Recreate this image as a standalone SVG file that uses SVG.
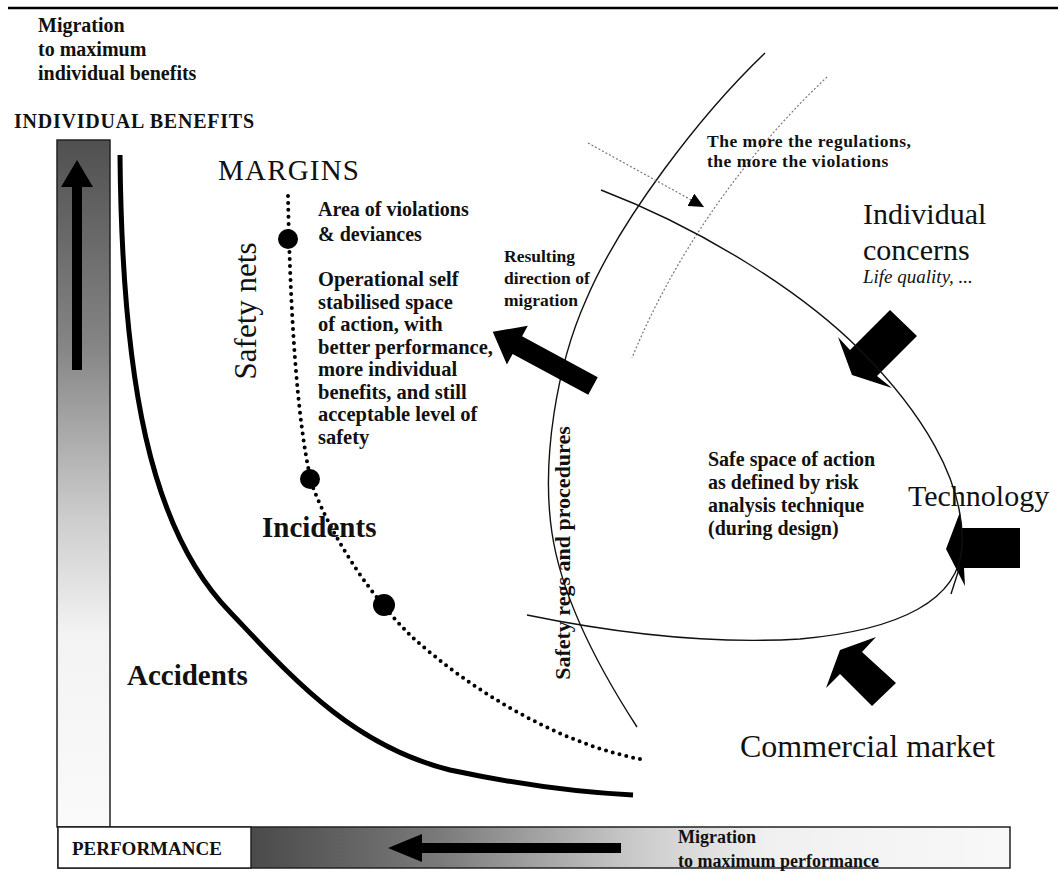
<svg xmlns="http://www.w3.org/2000/svg" width="1058" height="875" viewBox="0 0 1058 875">
<style>
.b{font-family:"Liberation Serif","Times New Roman",serif;font-weight:bold;fill:#111}
.r{font-family:"Liberation Serif","Times New Roman",serif;fill:#111}
.thin{fill:none;stroke:#111;stroke-width:1.4}
.dotg{fill:none;stroke:#777;stroke-width:1.2;stroke-dasharray:2 2}
.blk{fill:#000}
</style>
<defs>
<linearGradient id="gv" x1="0" y1="0" x2="0" y2="1">
<stop offset="0" stop-color="#505050"/>
<stop offset="0.3" stop-color="#858585"/>
<stop offset="0.55" stop-color="#cdcdcd"/>
<stop offset="0.72" stop-color="#f3f3f3"/>
<stop offset="1" stop-color="#fafafa"/>
</linearGradient>
<linearGradient id="gh" gradientUnits="userSpaceOnUse" x1="250" y1="0" x2="1010" y2="0">
<stop offset="0" stop-color="#4a4a4a"/>
<stop offset="0.25" stop-color="#7a7a7a"/>
<stop offset="0.5" stop-color="#c8c8c8"/>
<stop offset="0.68" stop-color="#f0f0f0"/>
<stop offset="1" stop-color="#f8f8f8"/>
</linearGradient>
<marker id="tri" markerUnits="userSpaceOnUse" markerWidth="16" markerHeight="14" refX="15" refY="7" orient="auto">
<path d="M0,0 L15,7 L0,14 z" fill="#000"/>
</marker>
</defs>
<rect width="1058" height="875" fill="#fff"/>
<line x1="8" y1="8" x2="1058" y2="8" stroke="#000" stroke-width="2.5"/>

<g id="axis-benefits">
<rect x="57" y="140" width="53" height="687" fill="url(#gv)" stroke="#222" stroke-width="1.5"/>
<polygon class="blk" points="77,160 93,187 82,187 82,370 72,370 72,187 61,187"/>
<text class="b" x="38" y="32" font-size="20">Migration</text>
<text class="b" x="38" y="56" font-size="20">to maximum</text>
<text class="b" x="38" y="80" font-size="20">individual benefits</text>
<text class="b" x="14" y="128" font-size="20" textLength="240" lengthAdjust="spacing">INDIVIDUAL BENEFITS</text>
</g>

<g id="axis-performance">
<rect x="58" y="827" width="952" height="41" fill="url(#gh)" stroke="#222" stroke-width="1.5"/>
<rect x="58" y="827" width="193" height="41" fill="#fff" stroke="#222" stroke-width="1.5"/>
<text class="b" x="72" y="855" font-size="19">PERFORMANCE</text>
<polygon class="blk" points="388,848 422,834 422,843 621,843 621,853 422,853 422,862"/>
<text class="b" x="678" y="843" font-size="18">Migration</text>
<text class="b" x="678" y="867" font-size="18">to maximum performance</text>
</g>

<g id="connectors">
<path id="accidents-boundary" d="M120,155 C122,380 150,530 230,612 C290,675 350,745 450,770 C530,787 590,793 633,795" fill="none" stroke="#000" stroke-width="5"/>
<path id="safety-nets" d="M288,196 C290,300 296,420 312,485 C335,545 375,600 410,635 C470,690 560,745 645,760" fill="none" stroke="#000" stroke-width="4" stroke-linecap="round" stroke-dasharray="0 7"/>
<path id="regs-arc" class="thin" d="M765,53 C700,115 620,220 586,300 C557,365 541,460 552,533 C562,600 600,670 637,727"/>
<path id="violations-arc" class="dotg" d="M827,77 C760,140 680,240 632,358"/>
<line id="regs-arrow" class="dotg" x1="588" y1="143" x2="704" y2="207" marker-end="url(#tri)"/>
<polygon id="migration-arrow" class="blk" transform="translate(593,386) rotate(208.4)" points="0,-10 86,-10 86,-22 114,0 86,22 86,10 0,10"/>
<polygon id="concerns-arrow" class="blk" points="838,337 852,375 892,388 877,376 917,336 890,310 850,350"/>
<polygon id="technology-arrow" class="blk" points="960,512 946,549 965,586 964,568 1020,568 1020,528 962,528"/>
<polygon id="market-arrow" class="blk" points="826,688 840,650 876,637 862,652 896,683 872,706 840,674"/>
<path id="safe-space-boundary" class="thin" d="M601,190 C700,228 800,290 860,350 C920,410 965,480 962,545 C960,600 900,630 800,639 C700,645 600,630 527,615"/>
<path class="thin" d="M951,594 L960,566"/>
<circle cx="288" cy="239" r="10" class="blk"/>
<circle cx="310" cy="479" r="10" class="blk"/>
<circle cx="384" cy="605" r="11" class="blk"/>
</g>

<g id="margins">
<text class="r" x="218" y="180" font-size="29" letter-spacing="1.2">MARGINS</text>
<text class="r" font-size="31" text-anchor="middle" transform="translate(256,311) rotate(-90)">Safety nets</text>
</g>

<g id="violations-area">
<text class="b" x="318" y="216" font-size="20">Area of  violations</text>
<text class="b" x="318" y="241" font-size="20">&amp; deviances</text>
</g>

<g id="operational-space">
<text class="b" x="318" y="286" font-size="20.5">Operational self</text>
<text class="b" x="318" y="308.5" font-size="20.5">stabilised space</text>
<text class="b" x="318" y="331" font-size="20.5">of action, with</text>
<text class="b" x="318" y="353.5" font-size="20.5">better performance,</text>
<text class="b" x="318" y="376" font-size="20.5">more individual</text>
<text class="b" x="318" y="398.5" font-size="20.5">benefits, and still</text>
<text class="b" x="318" y="421" font-size="20.5">acceptable level of</text>
<text class="b" x="318" y="443.5" font-size="20.5">safety</text>
</g>

<g id="migration-direction">
<text class="b" x="504" y="262" font-size="17.5">Resulting</text>
<text class="b" x="504" y="284" font-size="17.5">direction of</text>
<text class="b" x="504" y="306" font-size="17.5">migration</text>
</g>

<g id="regulations-note">
<text class="b" x="707" y="147" font-size="17.5" letter-spacing="0.5">The more the regulations,</text>
<text class="b" x="707" y="167" font-size="17.5" letter-spacing="0.5">the more the violations</text>
</g>

<g id="individual-concerns">
<text class="r" x="863" y="224" font-size="30">Individual</text>
<text class="r" x="863" y="260" font-size="30">concerns</text>
<text class="r" x="863" y="283" font-size="19" font-style="italic">Life quality, ...</text>
</g>

<g id="safe-space">
<text class="b" x="708" y="466" font-size="20">Safe space of action</text>
<text class="b" x="708" y="489" font-size="20">as defined by risk</text>
<text class="b" x="708" y="512" font-size="20">analysis technique</text>
<text class="b" x="708" y="535" font-size="20">(during design)</text>
</g>

<g id="technology">
<text class="r" x="908" y="506" font-size="30">Technology</text>
</g>

<g id="safety-regs">
<text class="b" font-size="22" text-anchor="middle" transform="translate(570,553) rotate(-90)">Safety regs and procedures</text>
</g>

<g id="incidents">
<text class="b" x="262" y="537" font-size="29">Incidents</text>
</g>

<g id="accidents">
<text class="b" x="127" y="685" font-size="29">Accidents</text>
</g>

<g id="commercial-market">
<text class="r" x="740" y="757" font-size="32">Commercial market</text>
</g>
</svg>
